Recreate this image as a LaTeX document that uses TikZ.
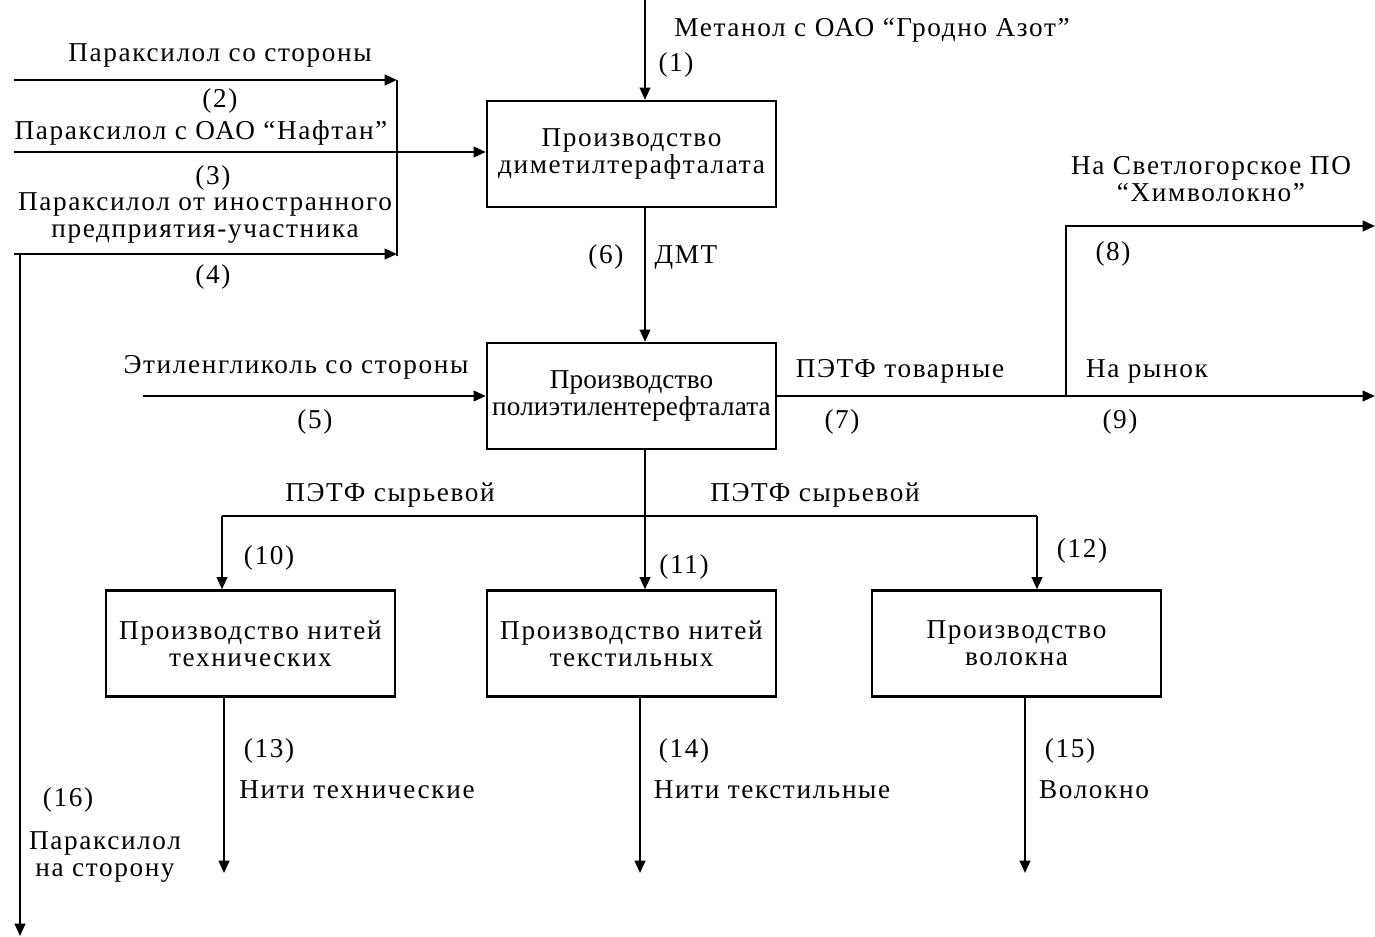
\documentclass[tikz,border=0pt]{standalone}
\usepackage{fontspec}
\setmainfont{Liberation Serif}[LetterSpace=6]
\usetikzlibrary{arrows.meta,calc}
\tikzset{
  proc/.style={draw, line width=1.3pt, minimum width=5.78cm, minimum height=2.12cm,
               align=center, inner sep=1pt},
  tight/.style={font=\fontsize{15.5}{15.5}\selectfont\addfontfeature{LetterSpace=0.5}},
  lbl/.style={align=center, inner sep=0pt},
  flow/.style={line width=1.3pt, -{Triangle[length=7pt,width=6pt]}},
  pipe/.style={line width=1.3pt}
}

\begin{document}
\begin{tikzpicture}[x=0.02cm, y=-0.02cm, font=\fontsize{15.5}{15.5}\selectfont]
\useasboundingbox (0,0) rectangle (1375,936);

% processes
\node[proc] (dmt)  at (631.5,154)   {Производство\\диметилтерафталата};
\node[proc,tight] (pet) at (631.5,396) {Производство\\полиэтилентерефталата};
\node[proc] (tech) at (250.5,643.5) {Производство нитей\\технических};
\node[proc] (text) at (631.5,643.5) {Производство нитей\\текстильных};
\node[proc] (fib)  at (1016.5,643.5){Производство\\волокна};

% free ends of the flows
\coordinate (meth) at (645,0);
\coordinate (px1)  at (14,80);
\coordinate (px2)  at (14,152);
\coordinate (px3)  at (14,254);
\coordinate (c1)   at (397,80);
\coordinate (c3)   at (397,254);
\coordinate (c16)  at (20,254);
\coordinate (out16) at (20,936);
\coordinate (eg)   at (143,396);
\coordinate (split) at (1066,396);
\coordinate (him)  at (1375,226);
\coordinate (mkt)  at (1375,396);
\coordinate (tee)  at (645,516);
\coordinate (in10) at (222,516);
\coordinate (in12) at (1037,516);
\coordinate (o13)  at (224,873);
\coordinate (o14)  at (640,873);
\coordinate (o15)  at (1025,873);

% flows
\draw[flow] (meth) -- (meth |- dmt.north);
\draw[flow] (px1) -- (c1);
\draw[flow] (px2) -- (px2 -| dmt.west);
\draw[flow] (px3) -- (c3);
\draw[pipe] (c1) -- ($(c3)+(0,2)$);
\draw[flow] (c16) -- (out16);
\draw[flow] (dmt.south -| meth) -- (pet.north -| meth);
\draw[flow] (eg) -- (eg -| pet.west);
\draw[pipe] (pet.east) -- (split);
\draw[flow] (split) -- (mkt);
\draw[flow] (split) |- (him);
\draw[pipe] (pet.south -| tee) -- (tee);
\draw[pipe] (in10) -- (in12);
\draw[flow] (tee) -- (text.north -| tee);
\draw[flow] (in10) -- (in10 |- tech.north);
\draw[flow] (in12) -- (in12 |- fib.north);
\draw[flow] (tech.south -| o13) -- (o13);
\draw[flow] (text.south -| o14) -- (o14);
\draw[flow] (fib.south -| o15) -- (o15);

% labels
\node[lbl] (l1)  at (872,30)  {Метанол с ОАО “Гродно Азот”};
\node[lbl] (n1)  at (676,65)  {(1)};
\node[lbl] (l2)  at (220,55)  {Параксилол со стороны};
\node[lbl] (n2)  at (220,101) {(2)};
\node[lbl] (l3)  at (201,133) {Параксилол с ОАО “Нафтан”};
\node[lbl] (n3)  at (213,178) {(3)};
\node[lbl] (l4)  at (205,218) {Параксилол от иностранного\\предприятия-участника};
\node[lbl] (n4)  at (213,277) {(4)};
\node[lbl] (n6)  at (606,257) {(6)};
\node[lbl] (l6)  at (686,257) {ДМТ};
\node[lbl] (l5)  at (296,367) {Этиленгликоль со стороны};
\node[lbl] (n5)  at (315,422) {(5)};
\node[lbl] (l7)  at (900,371) {ПЭТФ товарные};
\node[lbl] (n7)  at (842,422) {(7)};
\node[lbl] (l8)  at (1211,179) {На Светлогорское ПО\\“Химволокно”};
\node[lbl] (n8)  at (1113,254) {(8)};
\node[lbl] (l9)  at (1147,371) {На рынок};
\node[lbl] (n9)  at (1120,422) {(9)};
\node[lbl] (l10) at (390,495) {ПЭТФ сырьевой};
\node[lbl] (l12) at (815,495) {ПЭТФ сырьевой};
\node[lbl] (n10) at (269,558) {(10)};
\node[lbl] (n11) at (684,567) {(11)};
\node[lbl] (n12) at (1082,551) {(12)};
\node[lbl] (n13) at (269,751) {(13)};
\node[lbl] (l13) at (357,790) {Нити технические};
\node[lbl] (n14) at (684,751) {(14)};
\node[lbl] (l14) at (772,790) {Нити текстильные};
\node[lbl] (n15) at (1070,751) {(15)};
\node[lbl] (l15) at (1094,790) {Волокно};
\node[lbl] (n16) at (68,800)  {(16)};
\node[lbl] (l16) at (105,857) {Параксилол\\на сторону};
\end{tikzpicture}
\end{document}
